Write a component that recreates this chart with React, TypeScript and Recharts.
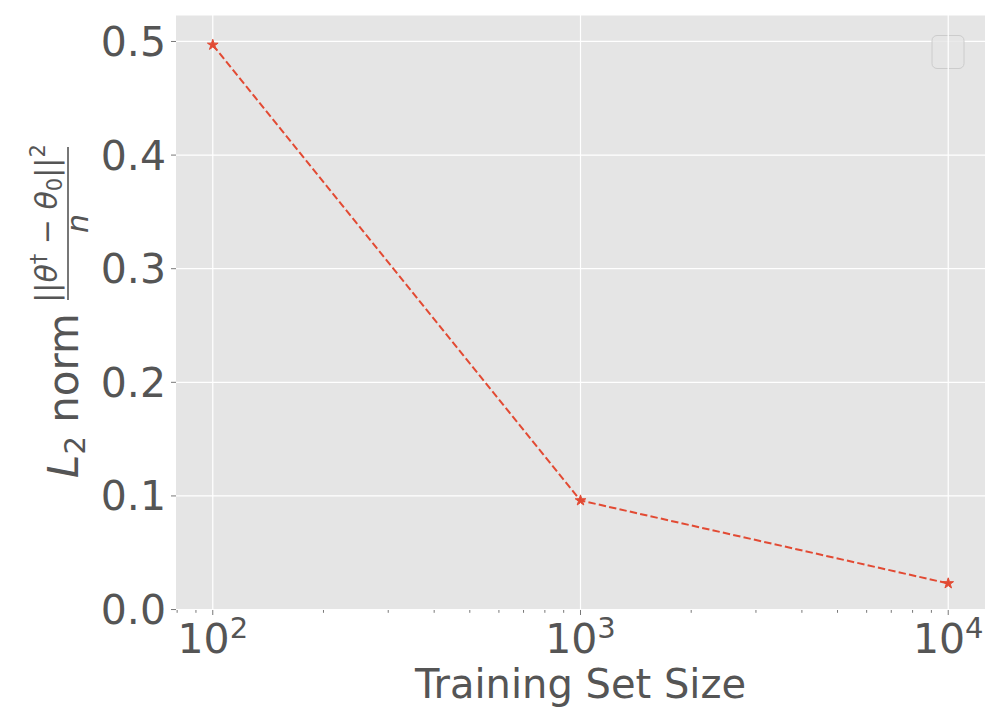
import React from 'react';
import { LineChart, Line, XAxis, YAxis, CartesianGrid, ReferenceLine, Customized } from 'recharts';

const trainingSizes = [100, 1000, 10000];
const l2Norms = [0.497, 0.096, 0.023];
const majorXTicks = [100, 1000, 10000];
const minorXTicks = [80, 90, 200, 300, 400, 500, 600, 700, 800, 900, 2000, 3000, 4000, 5000, 6000, 7000, 8000, 9000];
const yTicks = [0, 0.1, 0.2, 0.3, 0.4, 0.5];
const xDomain = [Math.pow(10, 1.9), Math.pow(10, 4.1)];
const yDomain = [-0.0004, 0.5233];
const xLabel = 'Training Set Size';

const data = trainingSizes.map((n, i) => ({ n, v: l2Norms[i] }));
const allXTicks = [...minorXTicks, ...majorXTicks].sort((a, b) => a - b);

const FONT = 'DejaVu Sans';
const TXT = '#555555';
const RED = '#E24A33';

const XTick = (props: any) => {
  const { x, y, payload } = props;
  const major = majorXTicks.includes(payload.value);
  const exp = Math.round(Math.log10(payload.value));
  return (
    <g>
      <line x1={x} x2={x} y1={y} y2={y + (major ? 5 : 2.8)} stroke={TXT} strokeWidth={0.8} />
      {major && (
        <text x={x} y={y + 43} textAnchor="middle" fill={TXT} fontSize={41} fontFamily={FONT}>
          <tspan>10</tspan>
          <tspan fontSize={29} dy={-15}>{exp}</tspan>
        </text>
      )}
    </g>
  );
};

const Star = (props: any) => {
  const { cx, cy } = props;
  if (cx == null || cy == null) return null;
  const pts: string[] = [];
  const R = 5.6;
  const r = R * 0.382;
  for (let i = 0; i < 10; i++) {
    const ang = -Math.PI / 2 + (i * Math.PI) / 5;
    const rad = i % 2 === 0 ? R : r;
    pts.push(`${cx + rad * Math.cos(ang)},${cy + rad * Math.sin(ang)}`);
  }
  return <polygon points={pts.join(' ')} fill={RED} stroke={RED} strokeWidth={1} strokeDasharray="none" />;
};

const Decorations = () => (
  <g>
    {/* empty legend box */}
    <rect x={932} y={35.5} width={32} height={33} rx={5} ry={5} fill="#E5E5E5" fillOpacity={0.8} stroke="#CCCCCC" strokeWidth={1} />
    {/* x label */}
    <text x={580.5} y={698} textAnchor="middle" fill={TXT} fontSize={40} fontFamily={FONT}>
      {xLabel}
    </text>
    {/* y label */}
    <g transform="translate(78,478) rotate(-90)">
      <text x={0} y={0} fill={TXT} fontSize={42} fontFamily={FONT}>
        <tspan fontStyle="italic">L</tspan>
        <tspan fontSize={29} dy={7}>2</tspan>
        <tspan dy={-7}> norm</tspan>
      </text>
      <line x1={178} x2={331} y1={-10} y2={-10} stroke={TXT} strokeWidth={1.6} />
      <text x={254.5} y={-21} textAnchor="middle" fill={TXT} fontSize={30} fontFamily={FONT}>
        <tspan>||</tspan>
        <tspan fontStyle="italic">θ</tspan>
        <tspan fontSize={21} dy={-11}>†</tspan>
        <tspan dy={11}> − </tspan>
        <tspan fontStyle="italic">θ</tspan>
        <tspan fontSize={21} dy={5}>0</tspan>
        <tspan dy={-5}>||</tspan>
        <tspan fontSize={21} dy={-12}>2</tspan>
      </text>
      <text x={254.5} y={10} textAnchor="middle" fill={TXT} fontSize={30} fontFamily={FONT} fontStyle="italic">
        n
      </text>
    </g>
  </g>
);

export default function App() {
  return (
    <div style={{ position: 'absolute', left: 0, top: 0, width: 1000, height: 721, background: '#ffffff' }}>
      <LineChart width={1000} height={721} data={data} margin={{ top: 15, right: 15, left: 0, bottom: 0 }}>
        <CartesianGrid vertical={false} stroke="#ffffff" strokeWidth={1.2} fill="#E5E5E5" fillOpacity={1} />
        <XAxis
          dataKey="n"
          type="number"
          scale="log"
          domain={xDomain}
          allowDataOverflow
          ticks={allXTicks}
          interval={0}
          tickLine={false}
          axisLine={false}
          tickSize={0}
          tickMargin={0}
          height={111}
          tick={<XTick />}
        />
        <YAxis
          type="number"
          domain={yDomain}
          allowDataOverflow
          ticks={yTicks}
          interval={0}
          width={176}
          tickSize={5}
          tickMargin={5}
          tickFormatter={(v: number) => v.toFixed(1)}
          tickLine={{ stroke: TXT, strokeWidth: 0.8 }}
          axisLine={false}
          tick={{ fill: TXT, fontSize: 41, fontFamily: FONT }}
        />
        {majorXTicks.map((t) => (
          <ReferenceLine key={t} x={t} stroke="#ffffff" strokeWidth={1.2} />
        ))}
        <Line
          dataKey="v"
          type="linear"
          stroke={RED}
          strokeWidth={2}
          strokeDasharray="7.4 3.2"
          dot={<Star />}
          activeDot={false}
          isAnimationActive={false}
        />
        <Customized component={Decorations} />
      </LineChart>
    </div>
  );
}
